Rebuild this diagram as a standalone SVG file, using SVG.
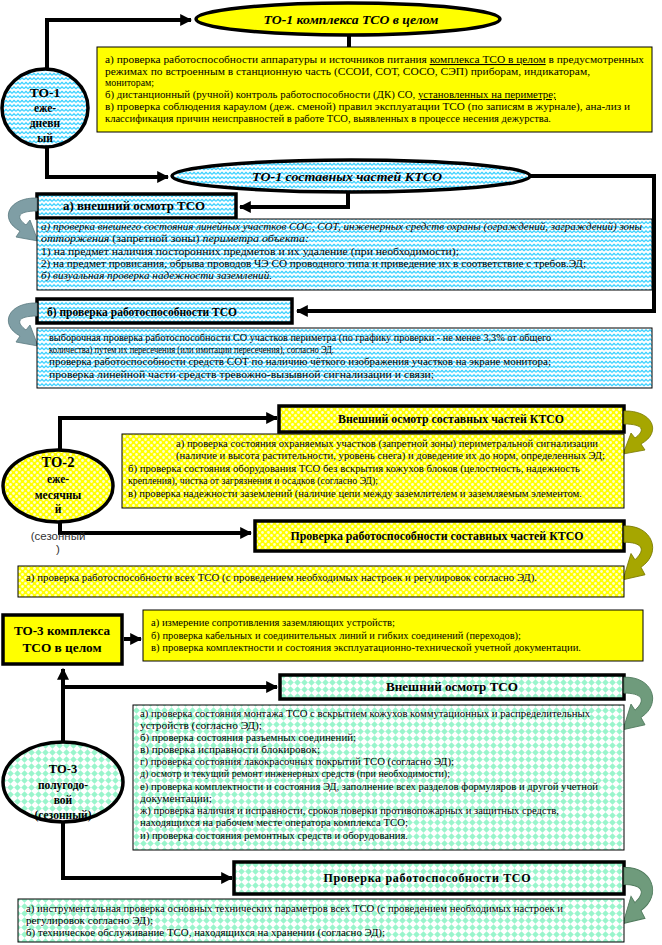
<svg xmlns="http://www.w3.org/2000/svg" width="662" height="945" viewBox="0 0 662 945">
<style>
.t{font-family:"Liberation Serif","Times New Roman",serif;font-size:10.6px;fill:#000}
.i{font-style:italic}
.hb{font-family:"Liberation Serif","Times New Roman",serif;font-weight:bold;font-size:12px;fill:#000}
.hbi{font-family:"Liberation Serif","Times New Roman",serif;font-weight:bold;font-style:italic;font-size:13.4px;fill:#000}
.u{text-decoration:underline}
.con{fill:none;stroke:#000;stroke-width:4}
.thin{stroke:#000;stroke-width:1}
.thick{stroke:#000;stroke-width:3.5}
.ca{fill:#7F9EA5;stroke:#5A7A80;stroke-width:0.8}
.co{fill:#A6A600;stroke:#7A7A00;stroke-width:0.8}
.cg{fill:#6F9B7C;stroke:#4F7A5C;stroke-width:0.8}
.mid{text-anchor:middle}
</style>
<defs>
<pattern id="wave" width="8" height="4.5" patternUnits="userSpaceOnUse">
<rect width="8" height="4.5" fill="#fff"/>
<path d="M0,3.3 L2,1.3 L4,3.3 L6,1.3 L8,3.3" fill="none" stroke="#22CCFF" stroke-width="1.1"/>
</pattern>
<pattern id="chk" width="6" height="6" patternUnits="userSpaceOnUse">
<rect width="6" height="6" fill="#FFFF00"/>
<circle cx="1.5" cy="1.5" r="1.4" fill="#FFFFCC"/>
<circle cx="4.5" cy="4.5" r="1.4" fill="#FFFFCC"/>
</pattern>
<pattern id="dia" width="7" height="7" patternUnits="userSpaceOnUse">
<rect width="7" height="7" fill="#fff"/>
<polygon points="3.5,0.2 6.8,3.5 3.5,6.8 0.2,3.5" fill="#99F5CC"/>
</pattern>
<marker id="ah" viewBox="0 0 10 10" refX="9" refY="5" markerWidth="3" markerHeight="3" orient="auto" markerUnits="strokeWidth">
<path d="M0,0 L10,5 L0,10 z" fill="#000"/>
</marker>
<path id="carr" d="M0,-8 C-28,-9 -39,13 -17,25 L-21,31 L1,35 L-7,14 L-11,19 C-23,10 -17,5 0,5 Z"/>
</defs>

<g id="connectors">
<path class="con" d="M47,70 V20 H191" marker-end="url(#ah)"/>
<path class="con" d="M349,35 V47"/>
<path class="con" d="M47,147 V177 H168" marker-end="url(#ah)"/>
<path class="con" d="M348,192 V207 H240" marker-end="url(#ah)"/>
<path class="con" d="M530,176 H654 V311 H297" marker-end="url(#ah)"/>
<path class="con" d="M60,450 V418 H277" marker-end="url(#ah)"/>
<path class="con" d="M60,522 V533 H251" marker-end="url(#ah)"/>
<path class="con" d="M124,639 H141" marker-end="url(#ah)"/>
<path class="con" d="M63,742 V669" marker-end="url(#ah)"/>
<path class="con" d="M63,687 H277" marker-end="url(#ah)"/>
<path class="con" d="M63,822 V878 H232" marker-end="url(#ah)"/>
</g>

<g id="to1-complex">
<ellipse cx="348" cy="19" rx="152" ry="16" fill="#FFFF00" class="thick"/>
<text class="hbi mid" x="351" y="24" textLength="175" lengthAdjust="spacingAndGlyphs">ТО-1 комплекса ТСО в целом</text>
</g>

<g id="to1-complex-text">
<rect x="97" y="47" width="555" height="85" fill="#FFFF00" class="thin"/>
<text class="t" x="105" y="63" textLength="539" lengthAdjust="spacingAndGlyphs">а) проверка работоспособности  аппаратуры и источников питания  <tspan class="u">комплекса ТСО в целом</tspan>  в предусмотренных</text>
<text class="t" x="105" y="75" textLength="485" lengthAdjust="spacingAndGlyphs">режимах по встроенным в станционную часть (ССОИ, СОТ, СОСО, СЭП) приборам, индикаторам,</text>
<text class="t" x="105" y="86" textLength="49" lengthAdjust="spacingAndGlyphs">мониторам;</text>
<text class="t" x="105" y="98" textLength="451" lengthAdjust="spacingAndGlyphs">б) дистанционный (ручной) контроль работоспособности (ДК) СО, <tspan class="u">установленных на периметре;</tspan></text>
<text class="t" x="105" y="110" textLength="525" lengthAdjust="spacingAndGlyphs">в) проверка соблюдения караулом (деж. сменой) правил эксплуатации ТСО (по записям в журнале), ана-лиз и</text>
<text class="t" x="105" y="122" textLength="446" lengthAdjust="spacingAndGlyphs">классификация причин неисправностей в работе ТСО, выявленных в процессе несения дежурства.</text>
</g>

<g id="to1-daily">
<ellipse cx="45" cy="108" rx="43" ry="39" fill="url(#wave)" class="thick"/>
<text class="hb mid" x="45" y="97" style="font-size:13.5px">ТО-1</text>
<text class="hb mid" x="45" y="112" style="font-size:11.5px">еже-</text>
<text class="hb mid" x="45" y="127" style="font-size:11.5px">дневн</text>
<text class="hb mid" x="45" y="142" style="font-size:11.5px">ый</text>
</g>

<g id="to1-parts">
<ellipse cx="351" cy="176" rx="179" ry="16" fill="url(#wave)" class="thick"/>
<text class="hbi mid" x="347" y="181" textLength="190" lengthAdjust="spacingAndGlyphs">ТО-1 составных частей КТСО</text>
</g>

<g id="to1-a-head">
<rect x="37" y="194" width="199" height="24" fill="url(#wave)" class="thick"/>
<text class="hb" x="63" y="210" textLength="142" lengthAdjust="spacingAndGlyphs" style="font-size:12.8px">а) внешний осмотр ТСО</text>
<use href="#carr" class="ca" transform="translate(37,206)"/>
</g>

<g id="to1-a-text">
<rect x="37" y="219" width="615" height="71" fill="url(#wave)" class="thin"/>
<text class="t i" x="41" y="230" textLength="601" lengthAdjust="spacingAndGlyphs">а) проверка внешнего состояния линейных участков  СОС, СОТ, инженерных средств охраны (ограждений, заграждений) зоны</text>
<text class="t" x="41" y="242" textLength="268" lengthAdjust="spacingAndGlyphs"><tspan class="i">отторжения</tspan> (запретной зоны) <tspan class="i">периметра объекта:</tspan></text>
<text class="t" x="41" y="255" textLength="418" lengthAdjust="spacingAndGlyphs">1) на предмет наличия посторонних предметов и их удаление (при необходимости);</text>
<text class="t" x="41" y="267" textLength="545" lengthAdjust="spacingAndGlyphs">2) на предмет провисания, обрыва проводов ЧЭ СО проводного типа и приведение их в соответствие с требов.ЭД;</text>
<text class="t i" x="41" y="279" textLength="231" lengthAdjust="spacingAndGlyphs">б) визуальная  проверка надежности заземлений.</text>
</g>

<g id="to1-b-head">
<rect x="37" y="299" width="255" height="24" fill="url(#wave)" class="thick"/>
<text class="hb" x="47" y="316" textLength="190" lengthAdjust="spacingAndGlyphs">б) проверка работоспособности ТСО</text>
<use href="#carr" class="ca" transform="translate(37,311)"/>
</g>

<g id="to1-b-text">
<rect x="37" y="328" width="615" height="60" fill="url(#wave)" class="thin"/>
<text class="t" x="49" y="341" textLength="502" lengthAdjust="spacingAndGlyphs">выборочная проверка работоспособности СО участков периметра (по графику проверки - не менее 3,3% от общего</text>
<text class="t" x="49" y="353" textLength="285" lengthAdjust="spacingAndGlyphs" style="font-size:9.8px">количества) путем их пересечения (или имитации  пересечения), согласно ЭД.</text>
<text class="t" x="49" y="365" textLength="502" lengthAdjust="spacingAndGlyphs">проверка работоспособности средств СОТ по наличию чёткого изображения участков на экране монитора;</text>
<text class="t" x="49" y="378" textLength="385" lengthAdjust="spacingAndGlyphs">проверка линейной части средств тревожно-вызывной сигнализации и связи;</text>
</g>

<g id="to2-monthly">
<ellipse cx="58" cy="486" rx="55" ry="36" fill="url(#chk)" class="thick"/>
<text class="hb mid" x="58" y="467" style="font-size:14.5px">ТО-2</text>
<text class="hb mid" x="58" y="483" style="font-size:11.5px">еже-</text>
<text class="hb mid" x="58" y="499" style="font-size:11.5px">месячны</text>
<text class="hb mid" x="58" y="513" style="font-size:11.5px">й</text>
<text class="mid" x="58" y="540" style="font-family:'Liberation Sans',Arial,sans-serif;font-size:11.5px;fill:#333">(сезонный</text>
<text class="mid" x="58" y="553" style="font-family:'Liberation Sans',Arial,sans-serif;font-size:11.5px;fill:#333">)</text>
</g>

<g id="to2-a-head">
<rect x="279" y="406" width="345" height="26" fill="url(#chk)" class="thick"/>
<text class="hb mid" x="451" y="423" textLength="226" lengthAdjust="spacingAndGlyphs">Внешний осмотр составных частей КТСО</text>
<use href="#carr" class="co" transform="translate(624,419) scale(-1,1)"/>
</g>

<g id="to2-a-text">
<rect x="122" y="434" width="502" height="74" fill="url(#chk)" class="thin"/>
<text class="t" x="176" y="447" textLength="422" lengthAdjust="spacingAndGlyphs">а) проверка состояния охраняемых участков (запретной зоны) периметральной сигнализации</text>
<text class="t" x="176" y="459" textLength="429" lengthAdjust="spacingAndGlyphs">(наличие и высота растительности, уровень снега) и доведение их до норм, определенных ЭД;</text>
<text class="t" x="128" y="472" textLength="452" lengthAdjust="spacingAndGlyphs">б) проверка состояния оборудования ТСО без вскрытия  кожухов блоков (целостность, надежность</text>
<text class="t" x="128" y="484" textLength="250" lengthAdjust="spacingAndGlyphs">крепления), чистка от загрязнения и осадков (согласно ЭД);</text>
<text class="t" x="128" y="497" textLength="454" lengthAdjust="spacingAndGlyphs">в) проверка надежности заземлений (наличие цепи  между заземлителем и заземляемым элементом.</text>
</g>

<g id="to2-b-head">
<rect x="255" y="521" width="369" height="30" fill="url(#chk)" class="thick"/>
<text class="hb mid" x="437" y="540" textLength="293" lengthAdjust="spacingAndGlyphs">Проверка работоспособности составных частей КТСО</text>
<use href="#carr" class="co" transform="translate(624,536) scale(-1,1.25)"/>
</g>

<g id="to2-b-text">
<rect x="18" y="566" width="606" height="31" fill="url(#chk)" class="thin"/>
<text class="t" x="26" y="581" textLength="511" lengthAdjust="spacingAndGlyphs">а) проверка работоспособности всех ТСО (с проведением необходимых настроек и регулировок согласно ЭД).</text>
</g>

<g id="to3-complex">
<rect x="3" y="615" width="119" height="49" fill="#FFFF00" class="thick"/>
<text class="hb mid" x="62" y="635" textLength="96" lengthAdjust="spacingAndGlyphs" style="font-size:13.3px">ТО-3 комплекса</text>
<text class="hb mid" x="62" y="652" style="font-size:13.3px">ТСО в целом</text>
</g>

<g id="to3-complex-text">
<rect x="143" y="610" width="500" height="51" fill="#FFFF00" class="thin"/>
<text class="t" x="151" y="626" textLength="244" lengthAdjust="spacingAndGlyphs">а) измерение сопротивления заземляющих устройств;</text>
<text class="t" x="151" y="639" textLength="370" lengthAdjust="spacingAndGlyphs">б) проверка кабельных и соединительных линий и гибких соединений (переходов);</text>
<text class="t" x="151" y="651" textLength="430" lengthAdjust="spacingAndGlyphs">в) проверка комплектности и состояния эксплуатационно-технической учетной документации.</text>
</g>

<g id="to3-halfyear">
<ellipse cx="63" cy="782" rx="60" ry="40" fill="url(#dia)" class="thick"/>
<text class="hb mid" x="63" y="773" style="font-size:12.5px">ТО-3</text>
<text class="hb mid" x="63" y="789" style="font-size:11.5px">полугодо-</text>
<text class="hb mid" x="63" y="804" style="font-size:11.5px">вой</text>
<text class="hb mid" x="63" y="819" style="font-size:11.5px">(сезонный)</text>
</g>

<g id="to3-a-head">
<rect x="280" y="675" width="344" height="24" fill="url(#dia)" class="thick"/>
<text class="hb mid" x="452" y="691" textLength="132" lengthAdjust="spacingAndGlyphs">Внешний осмотр  ТСО</text>
<use href="#carr" class="cg" transform="translate(624,687) scale(-1,1.22)"/>
</g>

<g id="to3-a-text">
<rect x="133" y="705" width="491" height="145" fill="url(#dia)" class="thin"/>
<text class="t" x="140" y="717" textLength="450" lengthAdjust="spacingAndGlyphs">а) проверка состояния монтажа ТСО с вскрытием кожухов коммутационных и распределительных</text>
<text class="t" x="140" y="729" textLength="122" lengthAdjust="spacingAndGlyphs">устройств (согласно ЭД);</text>
<text class="t" x="140" y="741" textLength="216" lengthAdjust="spacingAndGlyphs">б) проверка состояния разъемных соединений;</text>
<text class="t" x="140" y="753" textLength="180" lengthAdjust="spacingAndGlyphs">в) проверка исправности блокировок;</text>
<text class="t" x="140" y="765" textLength="314" lengthAdjust="spacingAndGlyphs">г) проверка состояния лакокрасочных покрытий ТСО (согласно ЭД);</text>
<text class="t" x="140" y="777" textLength="310" lengthAdjust="spacingAndGlyphs">д) осмотр и текущий ремонт инженерных средств (при необходимости);</text>
<text class="t" x="140" y="790" textLength="458" lengthAdjust="spacingAndGlyphs">е) проверка комплектности и состояния ЭД, заполнение всех разделов формуляров и другой учетной</text>
<text class="t" x="140" y="802" textLength="72" lengthAdjust="spacingAndGlyphs">документации;</text>
<text class="t" x="140" y="814" textLength="419" lengthAdjust="spacingAndGlyphs">ж) проверка наличия и исправности, сроков поверки противопожарных и защитных средств,</text>
<text class="t" x="140" y="826" textLength="268" lengthAdjust="spacingAndGlyphs">находящихся на рабочем месте оператора комплекса ТСО;</text>
<text class="t" x="140" y="839" textLength="268" lengthAdjust="spacingAndGlyphs">и) проверка состояния ремонтных средств и оборудования.</text>
</g>

<g id="to3-b-head">
<rect x="234" y="862" width="390" height="32" fill="url(#dia)" class="thick"/>
<text class="hb mid" x="427" y="882" textLength="207" lengthAdjust="spacing">Проверка работоспособности ТСО</text>
<use href="#carr" class="cg" transform="translate(624,878) scale(-1,1.3)"/>
</g>

<g id="to3-b-text">
<rect x="18" y="899" width="606" height="43" fill="url(#dia)" class="thin"/>
<text class="t" x="26" y="912" textLength="537" lengthAdjust="spacingAndGlyphs">а) инструментальная проверка основных технических параметров всех ТСО (с проведением необходимых настроек и</text>
<text class="t" x="26" y="924" textLength="127" lengthAdjust="spacingAndGlyphs">регулировок согласно ЭД);</text>
<text class="t" x="26" y="936" textLength="359" lengthAdjust="spacingAndGlyphs">б) техническое обслуживание ТСО, находящихся на хранении (согласно ЭД);</text>
</g>
</svg>
